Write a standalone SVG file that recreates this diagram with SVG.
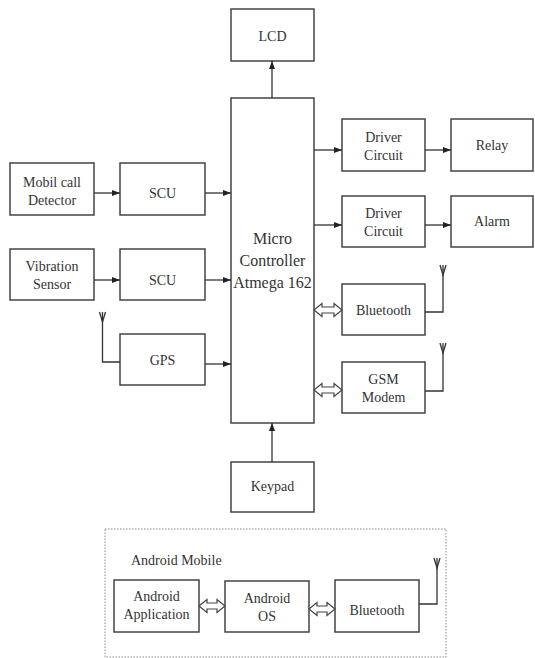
<svg xmlns="http://www.w3.org/2000/svg" width="535" height="658" viewBox="0 0 535 658">
<defs>
<style>
.box{fill:#fff;stroke:#444;stroke-width:1.5}
.t{font-family:"Liberation Serif","Times New Roman",serif;font-size:14px;fill:#333;text-anchor:middle}
.tb{font-family:"Liberation Serif","Times New Roman",serif;font-size:16px;fill:#333;text-anchor:middle}
.ln{fill:none;stroke:#333;stroke-width:1.3}
.arr{fill:none;stroke:#333;stroke-width:1.3;marker-end:url(#ah)}
.dbl{fill:#fff;stroke:#444;stroke-width:1.2}
.ant{fill:none;stroke:#333;stroke-width:1.3}
</style>
<marker id="ah" markerWidth="8" markerHeight="6" refX="8" refY="3" orient="auto" markerUnits="userSpaceOnUse">
<path d="M0,0 L8,3 L0,6 z" fill="#222"/>
</marker>
</defs>
<rect width="535" height="658" fill="#fff"/>

<g id="lcd"><rect class="box" x="231" y="9" width="83" height="52"/><text class="t" x="272.5" y="41">LCD</text></g>
<g id="micro"><rect class="box" x="231" y="98" width="83" height="325"/>
<text class="tb" x="272.5" y="244">Micro</text><text class="tb" x="272.5" y="266">Controller</text><text class="tb" x="272.5" y="288">Atmega 162</text></g>
<g id="driver1"><rect class="box" x="342" y="119" width="83" height="52"/><text class="t" x="383.5" y="142">Driver</text><text class="t" x="383.5" y="160">Circuit</text></g>
<g id="relay"><rect class="box" x="451" y="119" width="82" height="52"/><text class="t" x="492" y="150">Relay</text></g>
<g id="driver2"><rect class="box" x="342" y="196" width="83" height="51"/><text class="t" x="383.5" y="218">Driver</text><text class="t" x="383.5" y="236">Circuit</text></g>
<g id="alarm"><rect class="box" x="451" y="196" width="82" height="51"/><text class="t" x="492" y="226">Alarm</text></g>
<g id="mobil"><rect class="box" x="10" y="163" width="84" height="52"/><text class="t" x="52" y="187">Mobil call</text><text class="t" x="52" y="205">Detector</text></g>
<g id="scu1"><rect class="box" x="120" y="163" width="85" height="52"/><text class="t" x="162.5" y="198">SCU</text></g>
<g id="vibration"><rect class="box" x="10" y="249" width="84" height="51"/><text class="t" x="52" y="271">Vibration</text><text class="t" x="52" y="289">Sensor</text></g>
<g id="scu2"><rect class="box" x="120" y="249" width="85" height="51"/><text class="t" x="162.5" y="285">SCU</text></g>
<g id="gps"><rect class="box" x="120" y="334" width="85" height="51"/><text class="t" x="162.5" y="365">GPS</text></g>
<g id="bluetooth"><rect class="box" x="342" y="284" width="83" height="51"/><text class="t" x="383.5" y="315">Bluetooth</text></g>
<g id="gsm"><rect class="box" x="342" y="362" width="83" height="51"/><text class="t" x="383.5" y="384">GSM</text><text class="t" x="383.5" y="402">Modem</text></g>
<g id="keypad"><rect class="box" x="231" y="462" width="83" height="50"/><text class="t" x="272.5" y="491">Keypad</text></g>

<g id="android-mobile">
<rect x="105" y="529" width="341" height="128" fill="none" stroke="#888" stroke-width="1" stroke-dasharray="1.5,1.5"/>
<text class="t" x="131" y="565" style="text-anchor:start">Android Mobile</text>
</g>
<g id="android-app"><rect class="box" x="114" y="580" width="85" height="52"/><text class="t" x="156.5" y="601">Android</text><text class="t" x="156.5" y="619">Application</text></g>
<g id="android-os"><rect class="box" x="225" y="581" width="84" height="51"/><text class="t" x="267" y="603">Android</text><text class="t" x="267" y="621">OS</text></g>
<g id="bluetooth2"><rect class="box" x="335" y="580" width="84" height="52"/><text class="t" x="377" y="615">Bluetooth</text></g>

<g id="connectors">
<line class="arr" x1="272" y1="98" x2="272" y2="61"/>
<line class="arr" x1="314" y1="150" x2="342" y2="150"/>
<line class="arr" x1="425" y1="150" x2="451" y2="150"/>
<line class="arr" x1="314" y1="225" x2="342" y2="225"/>
<line class="arr" x1="425" y1="225" x2="451" y2="225"/>
<line class="arr" x1="94" y1="193" x2="120" y2="193"/>
<line class="arr" x1="205" y1="193" x2="231" y2="193"/>
<line class="arr" x1="94" y1="280" x2="120" y2="280"/>
<line class="arr" x1="205" y1="280" x2="231" y2="280"/>
<line class="arr" x1="205" y1="364" x2="231" y2="364"/>
<line class="arr" x1="272" y1="462" x2="272" y2="423"/>
<polygon class="dbl" points="314,310 322,303.5 322,307 334,307 334,303.5 342,310 334,316.5 334,313 322,313 322,316.5"/>
<polygon class="dbl" points="314,390 322,383.5 322,387 334,387 334,383.5 342,390 334,396.5 334,393 322,393 322,396.5"/>
<polygon class="dbl" points="199,606 207,599.5 207,603 217,603 217,599.5 225,606 217,612.5 217,609 207,609 207,612.5"/>
<polygon class="dbl" points="309,609 317,602.5 317,606 327,606 327,602.5 335,609 327,615.5 327,612 317,612 317,615.5"/>
<polyline class="ln" points="120,362 102.5,362 102.5,312"/>
<polyline class="ant" points="99.5,312 102.5,322 105.5,312"/>
<polyline class="ln" points="425,312 443,312 443,265"/>
<polyline class="ant" points="440,265 443,275 446,265"/>
<polyline class="ln" points="425,391 443,391 443,343"/>
<polyline class="ant" points="440,343 443,353 446,343"/>
<polyline class="ln" points="419,604 437,604 437,558"/>
<polyline class="ant" points="434,558 437,568 440,558"/>
</g>
</svg>
